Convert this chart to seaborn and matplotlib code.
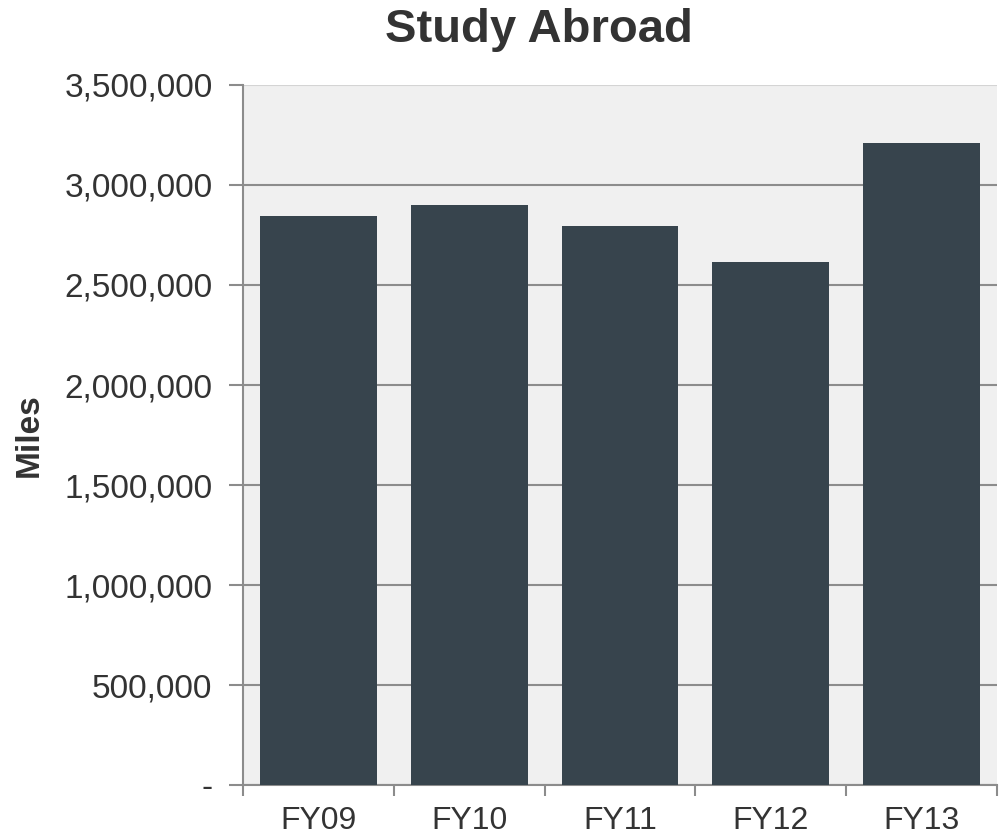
import pandas as pd
import matplotlib.pyplot as plt
import seaborn as sns
from matplotlib.ticker import FuncFormatter

# Study Abroad miles per fiscal year
years = ['FY09', 'FY10', 'FY11', 'FY12', 'FY13']
miles = [2846500, 2900000, 2795000, 2613500, 3208500]

df = pd.DataFrame({'Year': years, 'Miles': miles})

sns.set_style('white')
plt.rcParams['font.family'] = ['Liberation Sans', 'DejaVu Sans']

fig = plt.figure(figsize=(10.03, 8.38), dpi=100)
ax = fig.add_axes([0.2423, 0.0632, 0.7517, 0.8354])
ax.set_facecolor('#f0f0f0')

sns.barplot(data=df, x='Year', y='Miles', color='#37444d', width=0.775,
            saturation=1, linewidth=0, ax=ax, zorder=3)

ax.set_ylim(0, 3500000)
ax.set_xlim(-0.5, len(years) - 0.5)
ax.set_yticks(range(0, 3500001, 500000))


def fmt(v, pos):
    if v == 0:
        return '-'
    return f'{int(v):,}'


ax.yaxis.set_major_formatter(FuncFormatter(fmt))
ax.grid(axis='y', color='#8c8c8c', linewidth=1.5, zorder=0)
ax.set_axisbelow(True)
# top edge of the plot area is a lighter border line
ax.yaxis.get_gridlines()[-1].set_color('#d4d4d4')

for s in ['top', 'right']:
    ax.spines[s].set_visible(False)
for s in ['left', 'bottom']:
    ax.spines[s].set_color('#8c8c8c')
    ax.spines[s].set_linewidth(1.5)

# minor ticks at the category boundaries, labels at the centres
ax.set_xticks([i - 0.5 for i in range(len(years) + 1)], minor=True)
ax.tick_params(axis='x', which='major', length=0, labelsize=23,
               labelcolor='#333333', pad=15)
ax.tick_params(axis='x', which='minor', length=8, width=1.5, color='#8c8c8c',
               direction='out', bottom=True)
ax.tick_params(axis='y', length=10, width=1.5, color='#8c8c8c', labelsize=24,
               labelcolor='#333333', left=True, pad=12)

ax.set_xlabel('')
ax.set_ylabel('Miles', fontsize=24, fontweight='bold', color='#333333', labelpad=14)
fig.suptitle('Study Abroad', fontsize=34, fontweight='bold', color='#333333',
             x=0.537, y=0.99)

fig.savefig('out.png', dpi=100)
